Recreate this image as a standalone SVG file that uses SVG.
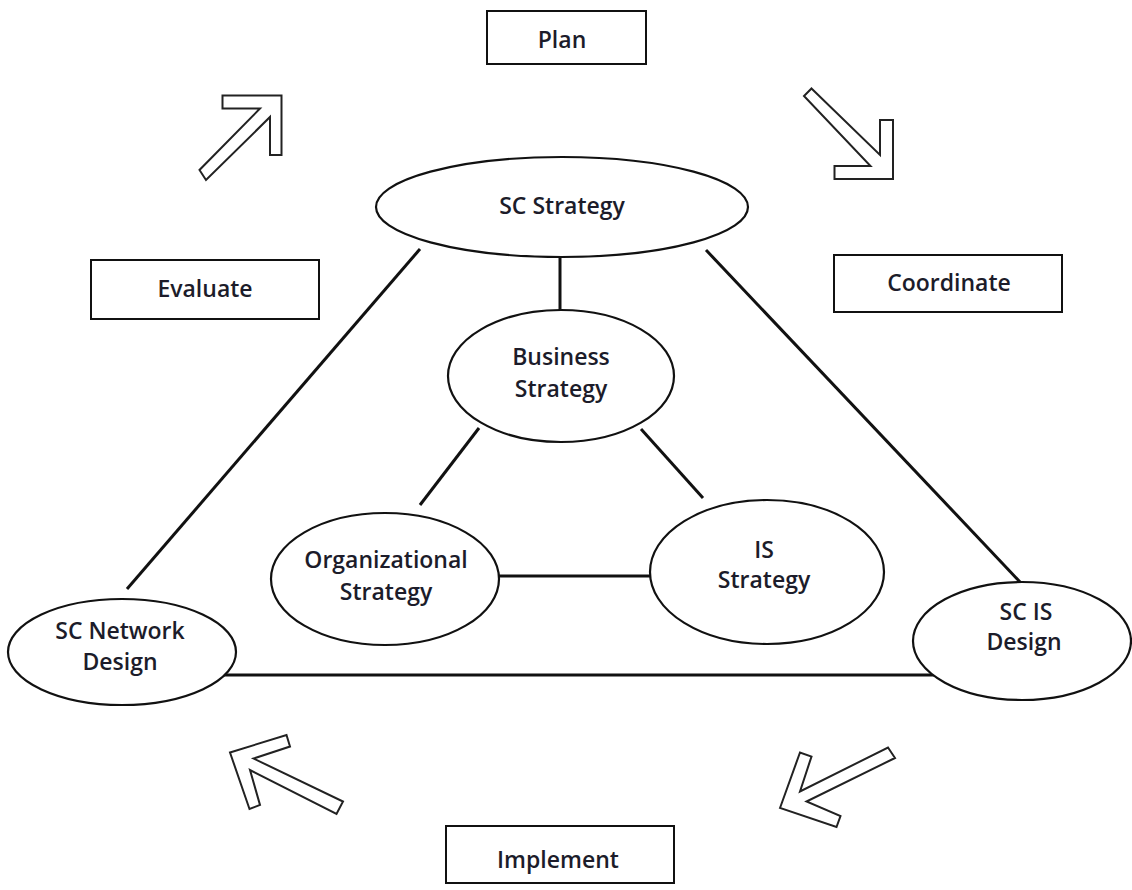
<svg xmlns="http://www.w3.org/2000/svg" width="1132" height="890" viewBox="0 0 1132 890">
  <defs>
    <style>
      .box { fill: #fff; stroke: #111; stroke-width: 2; }
      .oval { fill: #fff; stroke: #111; stroke-width: 2.2; }
      .link { stroke: #111; stroke-width: 3; fill: none; }
      .arrow { fill: #fff; stroke: #222; stroke-width: 2; stroke-linejoin: miter; }
      .lbl { font-family: "Open Sans", "Liberation Sans", sans-serif; font-weight: 600; font-size: 23px; fill: #1c1c2a; text-anchor: middle; }
    </style>
  </defs>
  <rect width="1132" height="890" fill="#fff"/>

  <!-- connectors -->
  <g id="connectors">
    <line class="link" x1="560" y1="257" x2="560" y2="311"/>
    <line class="link" x1="420" y1="249" x2="127" y2="589"/>
    <line class="link" x1="706" y1="250" x2="1021" y2="583"/>
    <line class="link" x1="218" y1="675" x2="962" y2="675"/>
    <line class="link" x1="479" y1="428" x2="420" y2="505"/>
    <line class="link" x1="641" y1="429" x2="703" y2="498"/>
    <line class="link" x1="499" y1="576" x2="651" y2="576"/>
  </g>

  <!-- cycle arrows -->
  <g id="cycle-arrows">
    <polygon class="arrow" points="281.5,95.5 281.5,155 270,155 270,117 206,180 199.5,170 260,108.5 222.5,108.5 222.5,95.5"/>
    <polygon class="arrow" points="811.5,88.5 880,155 880,120 893,120 893,179 834.5,179 834.5,166 870.5,166 804,96"/>
    <polygon class="arrow" points="230,752.5 286.5,735 290,746.5 253.5,758.5 343,801.5 336.5,814 250,770 260,805 249.5,809"/>
    <polygon class="arrow" points="780,808 800,752.5 811.5,756.5 800,791.5 888,747.5 895,758 806.5,801.5 840.5,816 836.5,827"/>
  </g>

  <!-- phase boxes -->
  <g id="plan">
    <rect class="box" x="487" y="11" width="159" height="53"/>
    <text class="lbl" x="562" y="48">Plan</text>
  </g>
  <g id="evaluate">
    <rect class="box" x="91" y="260" width="228" height="59"/>
    <text class="lbl" x="205" y="297">Evaluate</text>
  </g>
  <g id="coordinate">
    <rect class="box" x="834" y="255" width="228" height="57"/>
    <text class="lbl" x="949" y="291">Coordinate</text>
  </g>
  <g id="implement">
    <rect class="box" x="446" y="826" width="228" height="57"/>
    <text class="lbl" x="558" y="868">Implement</text>
  </g>

  <!-- strategy ovals -->
  <g id="sc-strategy">
    <ellipse class="oval" cx="562" cy="207" rx="186" ry="50"/>
    <text class="lbl" x="562" y="214">SC Strategy</text>
  </g>
  <g id="business-strategy">
    <ellipse class="oval" cx="561" cy="376" rx="113" ry="66"/>
    <text class="lbl" x="561" y="365">Business</text>
    <text class="lbl" x="561" y="397">Strategy</text>
  </g>
  <g id="organizational-strategy">
    <ellipse class="oval" cx="385" cy="579" rx="114" ry="66"/>
    <text class="lbl" x="386" y="568">Organizational</text>
    <text class="lbl" x="386" y="600">Strategy</text>
  </g>
  <g id="is-strategy">
    <ellipse class="oval" cx="767" cy="572" rx="117" ry="72"/>
    <text class="lbl" x="764" y="558">IS</text>
    <text class="lbl" x="764" y="588">Strategy</text>
  </g>
  <g id="sc-network-design">
    <ellipse class="oval" cx="122" cy="652" rx="114" ry="53"/>
    <text class="lbl" x="120" y="639">SC Network</text>
    <text class="lbl" x="120" y="670">Design</text>
  </g>
  <g id="sc-is-design">
    <ellipse class="oval" cx="1022" cy="641" rx="109" ry="59"/>
    <text class="lbl" x="1026" y="620">SC IS</text>
    <text class="lbl" x="1024" y="650">Design</text>
  </g>
</svg>
